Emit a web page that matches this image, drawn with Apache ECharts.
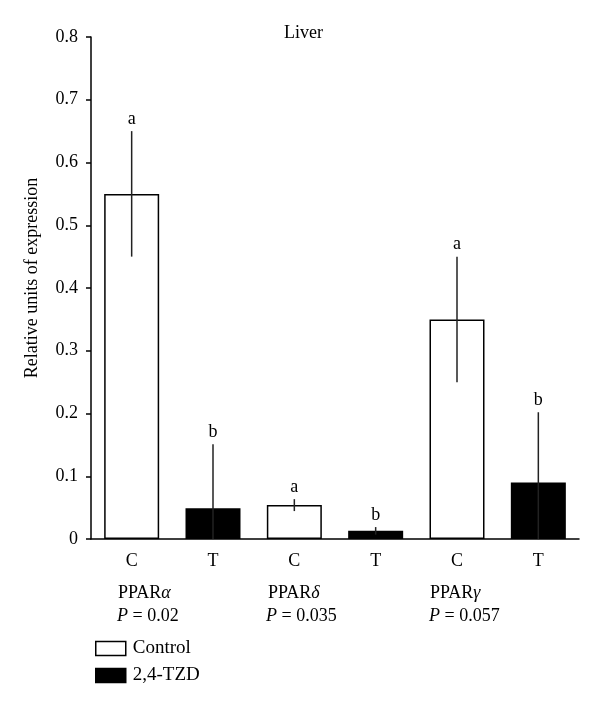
<!DOCTYPE html>
<html><head><meta charset="utf-8">
<script src="https://cdn.jsdelivr.net/npm/echarts@6/dist/echarts.min.js"></script>
<style>html,body{margin:0;padding:0;background:#fff}#c{width:600px;height:704px}</style>
</head><body><div id="c"></div>
<script>
var categories = ['C','T','C','T','C','T'];
var genes = ['PPAR', 'PPAR', 'PPAR'];
var geneGreek = ['α','δ','γ'];
var pValues = ['0.02','0.035','0.057'];
var controlVals = [0.55, 0.054, 0.35];
var tzdVals = [0.049, 0.013, 0.09];
var controlErr = [0.10, 0.0095, 0.10];
var tzdErr = [0.102, 0.006, 0.112];
var letters = ['a','b','a','b','a','b'];
var seriesNames = ['Control','2,4-TZD'];

var FONT = 'Liberation Serif';
var FS = 18;
var controlData = [], tzdData = [], errData = [];
for (var i = 0; i < 3; i++) {
  controlData.push(controlVals[i], null);
  tzdData.push(null, tzdVals[i]);
  errData.push([2*i, Math.max(0, controlVals[i]-controlErr[i]), controlVals[i]+controlErr[i], letters[2*i]]);
  errData.push([2*i+1, Math.max(0, tzdVals[i]-tzdErr[i]), tzdVals[i]+tzdErr[i], letters[2*i+1]]);
}

var graphics = [];
var gx = [118, 268, 430], px = [117, 266, 429];
for (var i = 0; i < 3; i++) {
  graphics.push({type:'text', left: gx[i], top: 584, style:{
    text: '{n|' + genes[i] + '}{g|' + geneGreek[i] + '}',
    rich: {n:{fontFamily:FONT,fontSize:FS,fill:'#000'}, g:{fontFamily:FONT,fontSize:FS,fontStyle:'italic',fill:'#000'}}
  }});
  graphics.push({type:'text', left: px[i], top: 607, style:{
    text: '{p|P}{n| = ' + pValues[i] + '}',
    rich: {p:{fontFamily:FONT,fontSize:FS,fontStyle:'italic',fill:'#000'}, n:{fontFamily:FONT,fontSize:FS,fill:'#000'}}
  }});
}

var chart = echarts.init(document.getElementById('c'), null, {renderer:'canvas'});
chart.setOption({
  animation: false,
  backgroundColor: '#fff',
  title: {text: 'Liver', left: 279, top: 19, textStyle:{fontFamily:FONT, fontSize:FS, fontWeight:'normal', color:'#000'}},
  grid: {left: 91, right: 21, top: 37, bottom: 165},
  legend: {
    orient: 'vertical', left: 90, top: 634, itemWidth: 30, itemHeight: 14, itemGap: 8,
    icon: 'rect',
    textStyle: {fontFamily: FONT, fontSize: 19, lineHeight: 16, color: '#000', padding:[0,0,0,2]},
    data: [
      {name: seriesNames[0], itemStyle:{color:'#fff', borderColor:'#000', borderWidth:1.5}},
      {name: seriesNames[1], itemStyle:{color:'#000', borderColor:'#000', borderWidth:1.5}}
    ]
  },
  xAxis: {
    type: 'category', data: categories, boundaryGap: true,
    axisLine: {lineStyle:{color:'#000', width:1.5}},
    axisTick: {length: 6, lineStyle:{color:'#000', width:1.5}},
    axisLabel: {fontFamily: FONT, fontSize: FS, color:'#000', margin: 13}
  },
  yAxis: {
    type: 'value', min: 0, max: 0.8, interval: 0.1,
    name: 'Relative units of expression', nameLocation: 'middle', nameGap: 50,
    nameTextStyle: {fontFamily: FONT, fontSize: FS, color:'#000', padding:[0,0,0,20]},
    axisLine: {show:true, lineStyle:{color:'#000', width:1.5}},
    axisTick: {show:true, length: 5, lineStyle:{color:'#000', width:1.5}},
    axisLabel: {fontFamily: FONT, fontSize: FS, color:'#000', margin: 13},
    splitLine: {show:false}
  },
  series: [
    {name: seriesNames[0], type:'bar', stack:'s', data: controlData, barWidth: 55,
     itemStyle:{color:'#fff', borderColor:'#000', borderWidth:1.5}},
    {name: seriesNames[1], type:'bar', stack:'s', data: tzdData, barWidth: 55,
     itemStyle:{color:'#000', borderColor:'#000', borderWidth:1.5}},
    {type:'custom', data: errData, z: 10,
     renderItem: function(params, api) {
       var lo = api.coord([api.value(0), api.value(1)]);
       var hi = api.coord([api.value(0), api.value(2)]);
       return {type:'group', children:[
         {type:'line', shape:{x1:hi[0], y1:lo[1], x2:hi[0], y2:hi[1]}, style:{stroke:'#222', lineWidth:1.5}},
         {type:'text', style:{text: letters[params.dataIndex], x: hi[0], y: hi[1]-3, align:'center', verticalAlign:'bottom',
           fontFamily: FONT, fontSize: FS, fill:'#000'}}
       ]};
     }}
  ],
  graphic: graphics
});
</script></body></html>
